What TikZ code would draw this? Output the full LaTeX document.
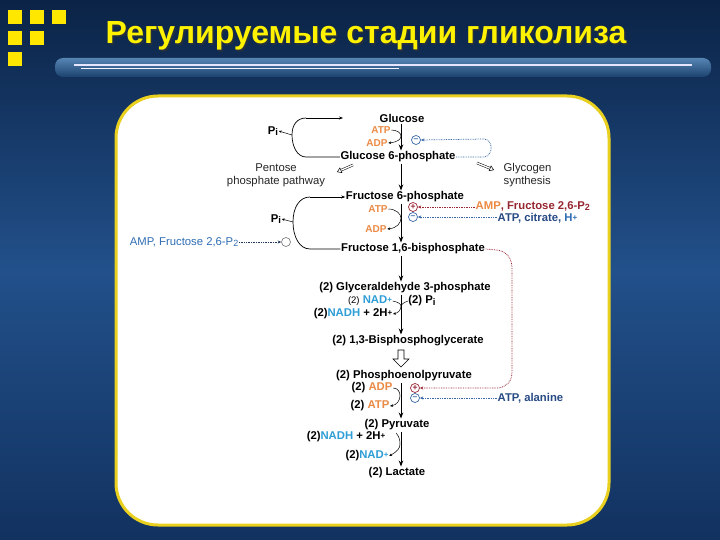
\documentclass[tikz,border=0pt]{standalone}
\usepackage{fontspec}
\setmainfont{Liberation Sans}
\usetikzlibrary{arrows.meta}
\definecolor{bgtop}{HTML}{0B2346}
\definecolor{bgmid}{HTML}{22508A}
\definecolor{bgbot}{HTML}{123260}
\definecolor{ttl}{HTML}{FFF200}
\definecolor{pbord}{HTML}{E9CF1E}
\definecolor{org}{HTML}{EB8A45}
\definecolor{nadc}{HTML}{2E9ED6}
\definecolor{navy}{HTML}{284B86}
\definecolor{lblue}{HTML}{2F6DB5}
\definecolor{dred}{HTML}{962630}
\definecolor{regb}{HTML}{3B68A6}
\definecolor{regr}{HTML}{9A2636}
\definecolor{barA}{HTML}{5685B3}
\definecolor{barB}{HTML}{1C426F}
\newcommand\myfs[1]{\fontsize{#1}{#1}\selectfont}
\newcommand\ionp{\raisebox{1.2pt}{\myfs{8}+}}
\newcommand\subtwo{\raisebox{-1.8pt}{\myfs{9}2}}
\newcommand\subi{\raisebox{-1.5pt}{\myfs{9.5}i}}
\begin{document}
\begin{tikzpicture}[x=1pt,y=-1pt,
  lab/.style={inner sep=0.5pt, font=\myfs{11.3}\bfseries, text=black},
  sml/.style={inner sep=0.5pt, font=\myfs{10}\bfseries, text=org},
  plainlab/.style={inner sep=0.5pt, font=\fontsize{11.3}{13}\selectfont, text=black!85},
  mainarr/.style={line width=0.9pt, -{Stealth[length=6pt,width=4.5pt]}, shorten >=0.5pt, shorten <=1pt},
  sidearr/.style={line width=0.5pt, -{Stealth[length=3pt,width=2.6pt]}},
  thinln/.style={line width=0.7pt},
  regc/.style={circle, draw, line width=0.7pt, minimum size=9pt, inner sep=0pt, font=\myfs{8.5}\bfseries},
  dotb/.style={regb, line width=0.75pt, dash pattern=on 0.8pt off 0.9pt, -{Stealth[length=3.5pt,width=3pt]}},
  dotr/.style={regr, line width=0.75pt, dash pattern=on 0.8pt off 0.9pt, -{Stealth[length=3.5pt,width=3pt]}},
  hollowdbl/.style={double=white, double distance=1.4pt, line width=0.5pt, -{Triangle[open,length=4.5pt,width=6pt]}}
]
\useasboundingbox (0,0) rectangle (720,540);
% background
\shade[top color=bgtop, bottom color=bgbot, middle color=bgmid] (0,0) rectangle (720,540);
% decorative squares
\foreach \sx/\sy in {8/10,30/10,52/10,8/31,30/31,8/52}
  \fill[ttl!90!orange] (\sx,\sy) rectangle ++(14,14);
% title bar
\shade[top color=barA, bottom color=barB, rounded corners=8pt] (55,58) rectangle (711,77);
\draw[white!75!blue!40, line width=1.1pt] (74,65) -- (692,65);
\draw[white!85!blue!30, line width=0.8pt] (81,68) -- (399,68);
% title
\node[font=\myfs{32}\bfseries, text=black!80, opacity=0.6] (titleshadow) at (367.5,37.5) {Регулируемые стадии гликолиза};
\node[font=\myfs{32}\bfseries, text=ttl] (title) at (366,36) {Регулируемые стадии гликолиза};
% panel
\draw[pbord, line width=3pt, fill=white, rounded corners=42pt] (116,96) rectangle (609,525);

% axis reference
\coordinate (ax) at (401,0);

% --- nodes ---
\node[lab] (glc) at (402,118) {Glucose};
\node[sml] (atp1) at (381,130) {ATP};
\node[sml] (adp1) at (377,143) {ADP};
\node[regc, regb] (m1) at (416,140) {--};
\node[lab] (g6p) at (398,157) {Glucose 6-phosphate};
\node[lab] (pi1) at (273,131) {P\subi};
\node[plainlab, align=center] (ppp) at (276,175) {Pentose\\phosphate pathway};
\node[plainlab, align=left, anchor=west] (glyc) at (503,175) {Glycogen\\synthesis};

\node[lab] (f6p) at (405,197) {Fructose 6-phosphate};
\node[sml] (atp2) at (378,209) {ATP};
\node[sml] (adp2) at (376,229) {ADP};
\node[regc, regr] (p2) at (413,207) {+};
\node[regc, regb] (m2) at (413,217) {--};
\node[lab, anchor=west] (amp2) at (475,206) {\textcolor{org}{AMP}\textcolor{dred}{, Fructose 2,6-P\subtwo}};
\node[lab, anchor=west] (atpcit) at (497,218.5) {\textcolor{navy}{ATP, citrate,} \textcolor{lblue}{H\ionp}};
\node[lab] (pi2) at (276,219) {P\subi};
\node[circle, draw=black!55, line width=0.6pt, minimum size=9pt, inner sep=0pt] (circ) at (286,242) {};
\node[inner sep=0.5pt, font=\myfs{11.3}, text=lblue, anchor=east] (ampL) at (239,242) {AMP, Fructose 2,6-P\subtwo};
\node[lab] (f16) at (413,249) {Fructose 1,6-bisphosphate};

\node[lab] (g3p) at (405,288) {(2) Glyceraldehyde 3-phosphate};
\node[lab] (nad1) at (370,301) {{\myfs{9.5}\mdseries (2)} \textcolor{nadc}{NAD\ionp}};
\node[lab] (pi3) at (422,301) {(2) P\subi};
\node[lab] (nadh1) at (353,314) {(2)\textcolor{nadc}{NADH} + 2H\ionp};
\node[lab] (bpg) at (408,341) {(2) 1,3-Bisphosphoglycerate};
\node[lab] (pep) at (404,376) {(2) Phosphoenolpyruvate};
\node[lab] (adp3) at (372,388) {(2) \textcolor{org}{ADP}};
\node[regc, regr] (p3) at (415,388) {+};
\node[regc, regb] (m3) at (415,398) {--};
\node[lab, anchor=west] (atpala) at (497,398) {\textcolor{navy}{ATP, alanine}};
\node[lab] (atp3) at (370,406) {(2) \textcolor{org}{ATP}};
\node[lab] (pyr) at (397,425) {(2) Pyruvate};
\node[lab] (nadh2) at (346,437) {(2)\textcolor{nadc}{NADH} + 2H\ionp};
\node[lab] (nad2) at (367,456) {(2)\textcolor{nadc}{NAD\ionp}};
\node[lab] (lac) at (397,473) {(2) Lactate};

% --- main axis arrows ---
\draw[mainarr] (glc.south -| ax) -- (g6p.north -| ax);
\draw[mainarr] (g6p.south -| ax) -- (f6p.north -| ax);
\draw[mainarr] (f6p.south -| ax) -- (f16.north -| ax);
\draw[mainarr] (f16.south -| ax) -- (g3p.north -| ax);
\draw[mainarr] (g3p.south -| ax) -- (bpg.north -| ax);
\draw[mainarr] (pep.south -| ax) -- (pyr.north -| ax);
\draw[mainarr] (pyr.south -| ax) -- (lac.north -| ax);
% hollow block arrow
\draw[line width=0.6pt, fill=white] (398,350) -- (404,350) -- (404,359) -- (409,359) -- (401,367) -- (393,359) -- (398,359) -- cycle;

% --- side arrows ---
\draw[sidearr] (atp1.east) .. controls (397,130) and (401,133) .. (401,136) .. controls (401,139) and (398,142) .. (adp1.east);
\draw[sidearr] (atp2.east) .. controls (396,209) and (401,214) .. (401,218) .. controls (401,223) and (397,228) .. (adp2.east);
\draw[line width=0.5pt] (nad1.east) .. controls (398,302) and (401,304) .. (401,306);
\draw[line width=0.5pt] (pi3.west) .. controls (406,302) and (402,303) .. (401,306);
\draw[sidearr] (401,306) .. controls (401,310) and (398,313) .. (nadh1.east);
\draw[sidearr] (adp3.east) .. controls (398,388) and (400,392) .. (400,396) .. controls (400,400) and (397,405) .. (atp3.east);
\coordinate (nh2) at (396,433);
\draw[sidearr] (nh2) .. controls (399,436) and (400,440) .. (400,444) .. controls (400,448) and (398,451) .. (nad2.east);

% --- Pi brackets ---
\coordinate (b1t) at (306,118);
\coordinate (b1b) at (306,157);
\coordinate (b1l) at (292,135);
\coordinate (b1e) at (343,118);
\draw[thinln] (g6p.west) -- (b1b) .. controls (297,157) and (292,146) .. (b1l) .. controls (292,125) and (297,118) .. (b1t);
\draw[thinln, -{Stealth[length=4pt,width=3pt]}] (b1t) -- (b1e);
\draw[line width=0.5pt, -{Stealth[length=3pt,width=2.6pt]}] (b1l) -- (pi1.east);

\coordinate (b2t) at (310,197);
\coordinate (b2b) at (310,249);
\coordinate (b2l) at (293,222);
\draw[thinln] (f16.west) -- (b2b) .. controls (299,249) and (293,236) .. (b2l) .. controls (293,208) and (299,197) .. (b2t);
\draw[thinln, -{Stealth[length=4pt,width=3pt]}] (b2t) -- (f6p.west);
\draw[line width=0.5pt, -{Stealth[length=3pt,width=2.6pt]}] (b2l) -- (pi2.east);

% --- pentose / glycogen hollow arrows ---
\coordinate (pp1) at (353,165);
\coordinate (pp2) at (337,172);
\draw[hollowdbl] (pp1) -- (pp2);
\coordinate (gy1) at (477,163);
\coordinate (gy2) at (494,170);
\draw[hollowdbl] (gy1) -- (gy2);

% --- regulation arrows ---
\draw[dotb] (g6p.east) -- (484,157) .. controls (493,156) and (494,140) .. (484,139) -- (m1.east);
\draw[dotr] (amp2.west |- p2) -- (p2.east);
\draw[dotb] (atpcit.west |- m2) -- (m2.east);
\draw[dotb, black!45!regb] (ampL.east) -- (circ.west);
\draw[dotr] (f16.east) -- (497,250) .. controls (506,251) and (512,258) .. (512,268) -- (512,372) .. controls (512,382) and (506,387) .. (498,388) -- (p3.east);
\draw[dotb] (atpala.west) -- (m3.east);
\end{tikzpicture}
\end{document}
